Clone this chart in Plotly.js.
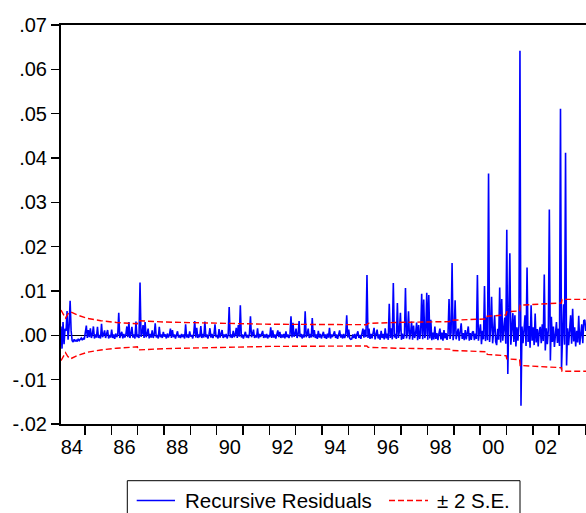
<!DOCTYPE html>
<html><head><meta charset="utf-8">
<script src="https://cdn.plot.ly/plotly-3.0.1.min.js"></script>
<style>html,body{margin:0;padding:0;background:#fff}#chart{width:586px;height:513px}</style>
</head><body><div id="chart"></div>
<script>
// time index: first observation and observations per year
const startYear = 1984.09;
const periodsPerYear = 26;

// recursive residuals
const residuals = [
 0.0020,-0.0030, 0.0030,-0.0020, 0.0015, 0.0010, 0.0055,-0.0010, 0.0020, 0.0078,
 0.0010,-0.0012,-0.0015,-0.0009,-0.0013,-0.0011,-0.0014,-0.0008,-0.0012,-0.0010,
-0.0006,-0.0011,-0.0007,-0.0009, 0.0012, 0.0022,-0.0006, 0.0012,-0.0004, 0.0016,
-0.0006, 0.0003, 0.0020,-0.0007, 0.0002,-0.0005, 0.0019,-0.0006, 0.0001,-0.0007,
 0.0026,-0.0004, 0.0002, 0.0011,-0.0006, 0.0003, 0.0012,-0.0007, 0.0001,-0.0005,
 0.0013,-0.0006, 0.0002,-0.0008, 0.0004,-0.0004, 0.0001, 0.0051,-0.0006, 0.0002,
 0.0008,-0.0007, 0.0003,-0.0005, 0.0001, 0.0020,-0.0004, 0.0030,-0.0006, 0.0003,
 0.0019,-0.0005, 0.0002,-0.0007, 0.0031,-0.0004, 0.0002,-0.0006, 0.0119,-0.0003,
 0.0004, 0.0023,-0.0006, 0.0030,-0.0004, 0.0002, 0.0015,-0.0007, 0.0003,-0.0005,
 0.0011,-0.0006, 0.0002, 0.0027,-0.0005, 0.0001,-0.0007, 0.0019,-0.0004, 0.0002,
-0.0006, 0.0008,-0.0003, 0.0002,-0.0007, 0.0004,-0.0005, 0.0001, 0.0015,-0.0006,
 0.0012,-0.0004, 0.0002,-0.0007, 0.0003, 0.0009,-0.0005, 0.0001,-0.0006, 0.0003,
-0.0004, 0.0002,-0.0007, 0.0025,-0.0005, 0.0002,-0.0006, 0.0009,-0.0003, 0.0001,
-0.0007, 0.0004, 0.0032,-0.0005, 0.0017,-0.0006, 0.0002,-0.0004, 0.0021,-0.0006,
 0.0003,-0.0005, 0.0031,-0.0004, 0.0002,-0.0007, 0.0001, 0.0016,-0.0005, 0.0003,
-0.0006, 0.0002, 0.0025,-0.0004, 0.0001,-0.0007, 0.0014,-0.0005, 0.0003, 0.0012,
-0.0006, 0.0002,-0.0004, 0.0003,-0.0007, 0.0001, 0.0064,-0.0005, 0.0002,-0.0006,
 0.0010,-0.0004, 0.0002, 0.0017,-0.0006, 0.0023,-0.0003, 0.0068,-0.0005, 0.0002,
-0.0007, 0.0003, 0.0008,-0.0005, 0.0001,-0.0006, 0.0004, 0.0043,-0.0004, 0.0002,
 0.0013,-0.0006, 0.0001,-0.0005, 0.0016,-0.0007, 0.0003,-0.0004, 0.0002, 0.0010,
-0.0006, 0.0002,-0.0005, 0.0003,-0.0007, 0.0001,-0.0004, 0.0018,-0.0006, 0.0011,
-0.0005, 0.0002,-0.0007, 0.0003, 0.0011,-0.0004, 0.0008,-0.0006, 0.0002,-0.0005,
 0.0003,-0.0007, 0.0009,-0.0004, 0.0002,-0.0006, 0.0001, 0.0043,-0.0005, 0.0028,
-0.0003, 0.0002, 0.0015,-0.0006, 0.0001, 0.0032,-0.0004, 0.0003,-0.0007, 0.0002,
-0.0005, 0.0054,-0.0004, 0.0002, 0.0015,-0.0006, 0.0003,-0.0005, 0.0039,-0.0004,
 0.0012,-0.0006, 0.0002,-0.0008, 0.0010,-0.0005, 0.0003,-0.0007, 0.0001, 0.0008,
-0.0006, 0.0002,-0.0008, 0.0004,-0.0005, 0.0017,-0.0007, 0.0002,-0.0004, 0.0003,
 0.0009,-0.0006, 0.0002,-0.0008, 0.0004, 0.0011,-0.0005, 0.0002,-0.0007, 0.0003,
-0.0006, 0.0002, 0.0045,-0.0005, 0.0013,-0.0007,-0.0009,-0.0008, 0.0002,-0.0006,
 0.0003,-0.0008, 0.0002, 0.0009,-0.0006, 0.0001,-0.0008, 0.0004, 0.0015,-0.0005,
 0.0013,-0.0004, 0.0136,-0.0006, 0.0015,-0.0008, 0.0003,-0.0007, 0.0002, 0.0017,
-0.0009, 0.0004, 0.0013,-0.0007, 0.0002,-0.0010, 0.0010,-0.0006, 0.0003,-0.0009,
 0.0016,-0.0007, 0.0004,-0.0010, 0.0071,-0.0006, 0.0016,-0.0009, 0.0118,-0.0005,
 0.0003,-0.0008, 0.0073,-0.0006, 0.0010, 0.0051,-0.0010, 0.0004,-0.0008, 0.0002,
 0.0107,-0.0007, 0.0005, 0.0054,-0.0009, 0.0003, 0.0031,-0.0010, 0.0022,-0.0006,
 0.0004, 0.0029,-0.0011, 0.0023,-0.0008, 0.0005, 0.0094,-0.0009, 0.0081,-0.0006,
 0.0004, 0.0096,-0.0010, 0.0091,-0.0007, 0.0035,-0.0011, 0.0006,-0.0009, 0.0020,
-0.0008, 0.0005,-0.0011, 0.0004, 0.0015,-0.0009, 0.0006,-0.0012, 0.0012,-0.0007,
 0.0005,-0.0010, 0.0004, 0.0082,-0.0008, 0.0006, 0.0163,-0.0011, 0.0005, 0.0079,
-0.0009, 0.0004, 0.0015,-0.0012, 0.0006, 0.0027,-0.0008, 0.0005,-0.0011, 0.0012,
-0.0009, 0.0006, 0.0020,-0.0012, 0.0005,-0.0010, 0.0007, 0.0009,-0.0011, 0.0004,
-0.0008, 0.0136,-0.0012, 0.0008, 0.0025,-0.0020, 0.0010,-0.0009, 0.0111,-0.0013,
 0.0041,-0.0011, 0.0365,-0.0015, 0.0012, 0.0087,-0.0018, 0.0009, 0.0045,-0.0014,
-0.0022, 0.0015,-0.0010, 0.0108,-0.0016, 0.0082,-0.0012, 0.0014, 0.0040,-0.0019,
 0.0238,-0.0087, 0.0025, 0.0185,-0.0021, 0.0012, 0.0050,-0.0015, 0.0045,-0.0025,
 0.0018,-0.0012, 0.0022, 0.0642,-0.0159, 0.0020,-0.0018, 0.0012, 0.0045,-0.0024,
 0.0153,-0.0015, 0.0021,-0.0028, 0.0068,-0.0012, 0.0018,-0.0022, 0.0049,-0.0016,
 0.0014,-0.0025, 0.0010, 0.0019,-0.0018, 0.0025,-0.0013, 0.0137,-0.0034, 0.0016,
-0.0020, 0.0012, 0.0284,-0.0057, 0.0042,-0.0015, 0.0020,-0.0026, 0.0013, 0.0030,
-0.0017, 0.0015,-0.0024, 0.0511,-0.0077, 0.0018, 0.0070,-0.0021, 0.0412,-0.0068,
 0.0016,-0.0022, 0.0012, 0.0045,-0.0019, 0.0060,-0.0014, 0.0018,-0.0025, 0.0010,
-0.0016, 0.0044,-0.0021, 0.0013, 0.0025,-0.0018, 0.0033, 0.0035, 0.0010
];

// two standard error band (read at the points where it changes)
const seYears = [1984.09,1984.2,1984.26,1984.35,1984.45,1984.7,1985.1,1985.6,1986.2,1986.99,1987.01,1988,1990,1992,1995.7,1995.75,1996.8,1998.84,1998.86,2000.25,2000.27,2000.99,2001.01,2001.5,2001.52,2003.09,2003.11,2004.03];
const seValues = [0.0057,0.0046,0.0039,0.0048,0.0053,0.0046,0.0038,0.0033,0.0029,0.0026,0.0033,0.0030,0.0027,0.0025,0.0024,0.0027,0.0029,0.0031,0.0034,0.0037,0.0043,0.0046,0.0053,0.0055,0.0068,0.0073,0.0081,0.0081];

const yTickVals = [-0.02,-0.01,0,0.01,0.02,0.03,0.04,0.05,0.06,0.07];
const yTickText = ['-.02','-.01','.00','.01','.02','.03','.04','.05','.06','.07'];
const xLabelYears = [1984.5,1986.5,1988.5,1990.5,1992.5,1994.5,1996.5,1998.5,2000.5,2002.5];
const xLabelText = ['84','86','88','90','92','94','96','98','00','02'];
const xTickYears = [1985,1986,1987,1988,1989,1990,1991,1992,1993,1994,1995,1996,1997,1998,1999,2000,2001,2002,2003,2004];
const legendNames = ['Recursive Residuals','± 2 S.E.'];

const resYears = residuals.map((_, i) => startYear + i / periodsPerYear);

const FONT = 'Liberation Sans, Arial, Helvetica, sans-serif';
const BLUE = '#0000FF', RED = '#FF0000';

const traces = [
  {x: resYears, y: residuals, type: 'scatter', mode: 'lines', name: legendNames[0],
   line: {color: BLUE, width: 1.6}, hoverinfo: 'skip'},
  {x: seYears, y: seValues, type: 'scatter', mode: 'lines', name: legendNames[1],
   line: {color: RED, width: 1.4, dash: '6px,3px'}, hoverinfo: 'skip'},
  {x: seYears, y: seValues.map(v => -v), type: 'scatter', mode: 'lines', name: legendNames[1],
   showlegend: false, line: {color: RED, width: 1.4, dash: '6px,3px'}, hoverinfo: 'skip'}
];

// plot area in pixels: left 61, right 586, top 25, bottom 424
const L = 61, R = 586, T = 25, B = 424;
const px = v => (v - L) / (R - L);
const py = v => (B - v) / (B - T);

const layout = {
  width: 586, height: 513,
  margin: {l: L, r: 586 - R, t: T, b: 513 - B},
  paper_bgcolor: '#fff', plot_bgcolor: '#fff',
  font: {family: FONT, size: 20, color: '#000'},
  showlegend: false,
  xaxis: {
    range: [1984.09, 2004.02], tickmode: 'array', tickvals: xLabelYears, ticktext: xLabelText,
    ticks: 'outside', ticklen: 4, tickcolor: 'rgba(0,0,0,0)',
    minor: {tickmode: 'array', tickvals: xTickYears, ticks: 'outside', ticklen: 9, tickwidth: 1.5, tickcolor: '#000', showgrid: false},
    showline: true, linecolor: '#000', linewidth: 2, mirror: true,
    showgrid: false, zeroline: false, tickfont: {family: FONT, size: 20, color: '#000'}
  },
  yaxis: {
    range: [-0.02, 0.07], tickmode: 'array', tickvals: yTickVals, ticktext: yTickText,
    ticks: 'outside', ticklen: 8, tickwidth: 1.5, tickcolor: '#000',
    showline: true, linecolor: '#000', linewidth: 2, mirror: false,
    showgrid: false, zeroline: true, zerolinecolor: '#000', zerolinewidth: 1,
    tickfont: {family: FONT, size: 20, color: '#000'}
  },
  shapes: [
    {type: 'rect', xref: 'paper', yref: 'paper', x0: px(127.3), x1: px(520), y0: py(480.7), y1: py(545),
     line: {color: '#000', width: 1}, fillcolor: 'rgba(0,0,0,0)'},
    {type: 'line', xref: 'paper', yref: 'paper', x0: px(136.7), x1: px(175), y0: py(500.5), y1: py(500.5),
     line: {color: BLUE, width: 1.4}},
    {type: 'line', xref: 'paper', yref: 'paper', x0: px(389), x1: px(428), y0: py(500.5), y1: py(500.5),
     line: {color: RED, width: 1.4, dash: '6px,3px'}}
  ],
  annotations: [
    {xref: 'paper', yref: 'paper', x: px(183), y: py(500), xanchor: 'left', yanchor: 'middle',
     text: legendNames[0], showarrow: false, font: {family: FONT, size: 20.5, color: '#000'}},
    {xref: 'paper', yref: 'paper', x: px(435), y: py(500), xanchor: 'left', yanchor: 'middle',
     text: legendNames[1], showarrow: false, font: {family: FONT, size: 20.5, color: '#000'}}
  ]
};

Plotly.newPlot('chart', traces, layout, {staticPlot: true, displayModeBar: false});
</script>
</body></html>
